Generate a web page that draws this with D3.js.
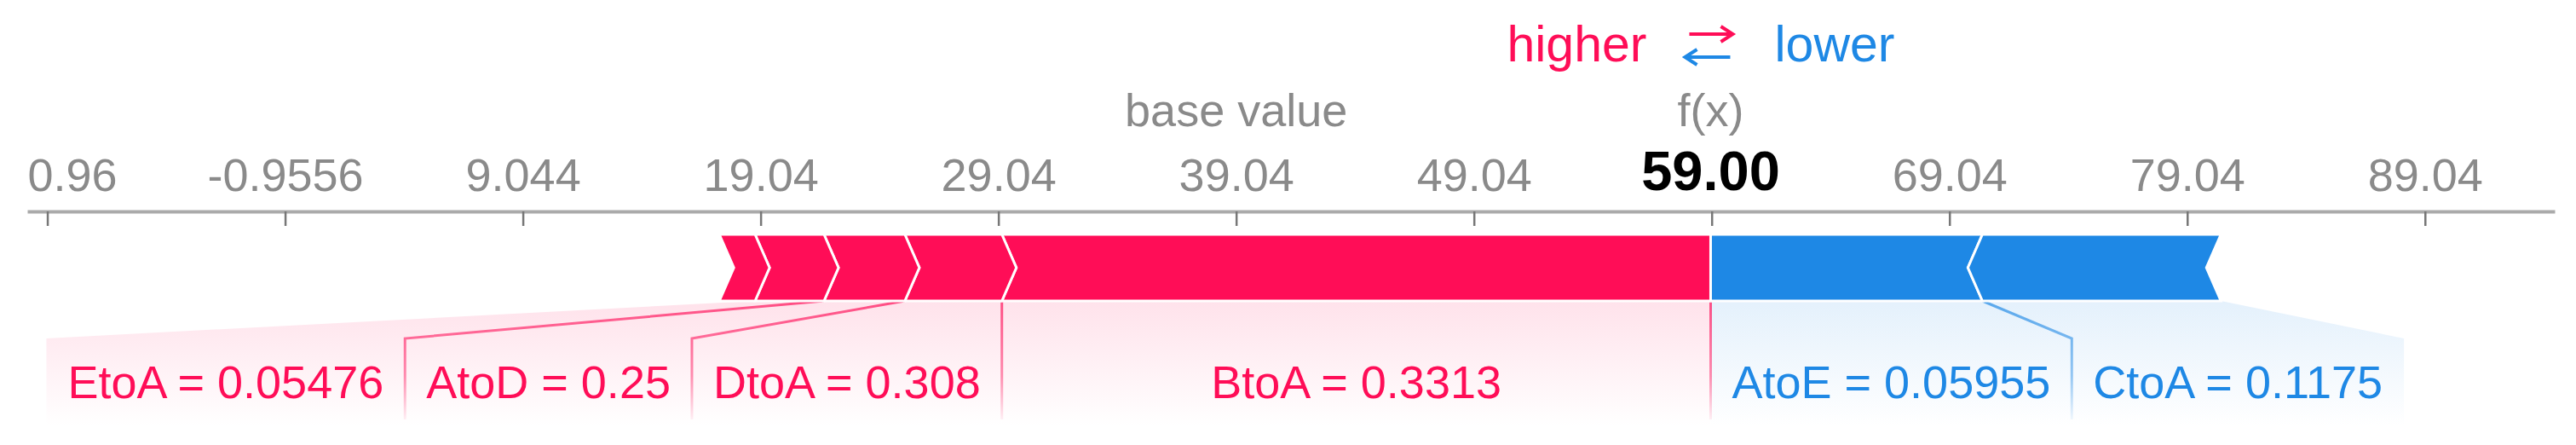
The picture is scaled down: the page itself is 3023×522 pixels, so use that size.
<!DOCTYPE html>
<html>
<head>
<meta charset="utf-8">
<script src="https://cdn.jsdelivr.net/npm/d3@7"></script>
<style>
body { margin: 0; background: #fff; }
svg { display: block; font-family: "Liberation Sans", Arial, sans-serif; }
</style>
</head>
<body>
<script>
// model output and base value
var baseValue = 39.0444;
var outputValue = 59.00;

// features pushing higher (red), listed from f(x) outwards
var posNames = ["BtoA", "DtoA", "AtoD", "EtoA", ""];
var posValues = ["0.3313", "0.308", "0.25", "0.05476", ""];
var posEffects = [29.81, 4.08, 3.40, 2.90, 1.50];

// features pushing lower (blue), listed from f(x) outwards
var negNames = ["AtoE", "CtoA"];
var negValues = ["0.05955", "0.1175"];
var negEffects = [11.43, 10.03];

// ticks are placed relative to the base value
var tickSteps = [-50, -40, -30, -20, -10, 0, 10, 20, 30, 40, 50];
var axisDomain = [-11.8, 94.5];

var width = 3023, height = 522;
var red = "#ff0d57", blue = "#1e88e5";
var barTop = 275, barBottom = 353, knee = 397, labelY = 467, backBottom = 500;
var chevron = 17, pad = 25;

var svg = d3.select("body").append("svg")
    .attr("width", width)
    .attr("height", height);

var defs = svg.append("defs");

[["red", red], ["blue", blue]].forEach(function (c) {
    var g1 = defs.append("linearGradient").attr("id", "back-" + c[0])
        .attr("gradientUnits", "userSpaceOnUse")
        .attr("x1", 0).attr("x2", 0).attr("y1", barBottom).attr("y2", backBottom);
    g1.append("stop").attr("offset", "0%").attr("stop-color", c[1]).attr("stop-opacity", 0.12);
    g1.append("stop").attr("offset", "100%").attr("stop-color", c[1]).attr("stop-opacity", 0);
    var g2 = defs.append("linearGradient").attr("id", "link-" + c[0])
        .attr("gradientUnits", "userSpaceOnUse")
        .attr("x1", 0).attr("x2", 0).attr("y1", barBottom).attr("y2", backBottom);
    g2.append("stop").attr("offset", "0%").attr("stop-color", c[1]).attr("stop-opacity", 0.7);
    g2.append("stop").attr("offset", "60%").attr("stop-color", c[1]).attr("stop-opacity", 0.45);
    g2.append("stop").attr("offset", "100%").attr("stop-color", c[1]).attr("stop-opacity", 0);
});

var x = d3.scaleLinear()
    .domain(axisDomain)
    .range([32, 2998]);

var fmt = d3.formatLocale({decimal: ".", thousands: ",", grouping: [3], currency: ["", ""], minus: "-"}).format(".4");

// axis
var xAxis = d3.axisBottom(x)
    .tickValues(tickSteps.map(function (s) { return baseValue + s; }))
    .tickSize(17)
    .tickSizeOuter(0)
    .tickFormat(fmt);

var gAxis = svg.append("g")
    .attr("transform", "translate(0," + 248 + ")")
    .call(xAxis)
    .attr("font-size", 54)
    .attr("font-family", null);
gAxis.select(".domain").attr("stroke", "#aaa").attr("stroke-width", 4);
gAxis.selectAll(".tick line").attr("stroke", "#777").attr("stroke-width", 2.5);
gAxis.selectAll(".tick text")
    .attr("y", -24).attr("dy", null)
    .attr("fill", "#8a8a8a")
    .style("display", function (d) {
        return Math.abs(x(d) - x(outputValue)) < 90 ? "none" : null;
    })
    .each(function (d) {
        // the leftmost label runs off the page edge: keep only the part that shows
        var t = d3.select(this);
        var w = this.getComputedTextLength();
        var right = x(d) + w / 2;
        if (right - w >= 0) return;
        var s = t.text();
        while (s.length > 1 && right - this.getComputedTextLength() < 0) {
            s = s.slice(1);
            t.text(s);
        }
        t.attr("text-anchor", "start").attr("x", x.range()[0] - x(d));
    });

// base value / f(x) labels
svg.append("text").attr("x", x(baseValue)).attr("y", 148)
    .attr("text-anchor", "middle").attr("font-size", 54).attr("fill", "#8a8a8a")
    .text("base value");
svg.append("text").attr("x", x(outputValue)).attr("y", 148)
    .attr("text-anchor", "middle").attr("font-size", 54).attr("fill", "#8a8a8a")
    .text("f(x)");
svg.append("text").attr("x", x(outputValue)).attr("y", 223)
    .attr("text-anchor", "middle").attr("font-size", 65).attr("font-weight", "bold").attr("fill", "#000")
    .text(outputValue.toFixed(2));

// legend
var fxX = x(outputValue);
svg.append("text").attr("x", fxX - 75).attr("y", 72)
    .attr("text-anchor", "end").attr("font-size", 59).attr("fill", red).text("higher");
svg.append("text").attr("x", fxX + 75).attr("y", 72)
    .attr("text-anchor", "start").attr("font-size", 59).attr("fill", blue).text("lower");
svg.append("path")
    .attr("d", "M" + (fxX - 25) + ",40 H" + (fxX + 26) + " M" + (fxX + 12) + ",31 L" + (fxX + 26) + ",40 L" + (fxX + 12) + ",49")
    .attr("fill", "none").attr("stroke", red).attr("stroke-width", 4);
svg.append("path")
    .attr("d", "M" + (fxX + 23) + ",67 H" + (fxX - 30) + " M" + (fxX - 16) + ",58 L" + (fxX - 30) + ",67 L" + (fxX - 16) + ",76")
    .attr("fill", "none").attr("stroke", blue).attr("stroke-width", 4);

// build segments
var posData = [], negData = [];
var end = outputValue;
posEffects.forEach(function (e, i) {
    posData.push({name: posNames[i], value: posValues[i], x0: end - e, x1: end, i: i});
    end = end - e;
});
var start = outputValue;
negEffects.forEach(function (e, i) {
    negData.push({name: negNames[i], value: negValues[i], x0: start, x1: start + e, i: i});
    start = start + e;
});

var mid = (barTop + barBottom) / 2;

// label widths and boxes
var measure = svg.append("text").attr("font-size", 54);
function textWidth(s) {
    measure.text(s);
    return measure.node().getComputedTextLength();
}

var prevLeft = x(outputValue);
posData.forEach(function (d) {
    d.label = d.name ? d.name + " = " + d.value : "";
    d.sx0 = x(d.x0); d.sx1 = x(d.x1);
    if (!d.label) return;
    d.boxRight = Math.min(d.sx1, prevLeft);
    d.boxLeft = Math.min(d.sx0, d.boxRight - textWidth(d.label) - 2 * pad);
    prevLeft = d.boxLeft;
});
var prevRight = x(outputValue);
negData.forEach(function (d) {
    d.label = d.name + " = " + d.value;
    d.sx0 = x(d.x0); d.sx1 = x(d.x1);
    d.boxLeft = Math.max(d.sx0, prevRight);
    d.boxRight = Math.max(d.sx1, d.boxLeft + textWidth(d.label) + 2 * pad);
    prevRight = d.boxRight;
});
measure.remove();

var posLabeled = posData.filter(function (d) { return d.label; });

function backing(d) {
    return "M" + d.boxLeft + "," + knee +
        " L" + d.sx0 + "," + barBottom +
        " L" + d.sx1 + "," + barBottom +
        " L" + d.boxRight + "," + knee +
        " L" + d.boxRight + "," + backBottom +
        " L" + d.boxLeft + "," + backBottom + " Z";
}

svg.selectAll(".back-pos").data(posLabeled).enter().append("path")
    .attr("d", backing).attr("fill", "url(#back-red)");
svg.selectAll(".back-neg").data(negData).enter().append("path")
    .attr("d", backing).attr("fill", "url(#back-blue)");

// links (the one at f(x) is drawn by the red side)
svg.selectAll(".link-neg").data(negData.filter(function (d) { return d.i > 0; })).enter().append("path")
    .attr("d", function (d) {
        return "M" + d.sx0 + "," + barBottom + " L" + d.boxLeft + "," + knee + " L" + d.boxLeft + "," + (backBottom - 8);
    })
    .attr("fill", "none").attr("stroke", "url(#link-blue)").attr("stroke-width", 3);
svg.selectAll(".link-pos").data(posLabeled).enter().append("path")
    .attr("d", function (d) {
        return "M" + d.sx1 + "," + barBottom + " L" + d.boxRight + "," + knee + " L" + d.boxRight + "," + (backBottom - 8);
    })
    .attr("fill", "none").attr("stroke", "url(#link-red)").attr("stroke-width", 3);

// bars
svg.selectAll(".bar-pos").data(posData).enter().append("path")
    .attr("d", function (d) {
        var tip = d.i === 0 ? 0 : chevron;
        return "M" + d.sx0 + "," + barTop + " L" + d.sx1 + "," + barTop +
            " L" + (d.sx1 + tip) + "," + mid + " L" + d.sx1 + "," + barBottom +
            " L" + d.sx0 + "," + barBottom + " L" + (d.sx0 + chevron) + "," + mid + " Z";
    })
    .attr("fill", red).attr("stroke", "#fff").attr("stroke-width", 3).attr("stroke-linejoin", "miter");
svg.selectAll(".bar-neg").data(negData).enter().append("path")
    .attr("d", function (d) {
        var tip = d.i === 0 ? 0 : chevron;
        return "M" + d.sx0 + "," + barTop + " L" + d.sx1 + "," + barTop +
            " L" + (d.sx1 - chevron) + "," + mid + " L" + d.sx1 + "," + barBottom +
            " L" + d.sx0 + "," + barBottom + " L" + (d.sx0 - tip) + "," + mid + " Z";
    })
    .attr("fill", blue).attr("stroke", "#fff").attr("stroke-width", 3).attr("stroke-linejoin", "miter");

// labels
svg.selectAll(".label-pos").data(posLabeled).enter().append("text")
    .attr("x", function (d) { return (d.boxLeft + d.boxRight) / 2; })
    .attr("y", labelY).attr("text-anchor", "middle").attr("font-size", 54).attr("fill", red)
    .text(function (d) { return d.label; });
svg.selectAll(".label-neg").data(negData).enter().append("text")
    .attr("x", function (d) { return (d.boxLeft + d.boxRight) / 2; })
    .attr("y", labelY).attr("text-anchor", "middle").attr("font-size", 54).attr("fill", blue)
    .text(function (d) { return d.label; });
</script>
</body>
</html>
